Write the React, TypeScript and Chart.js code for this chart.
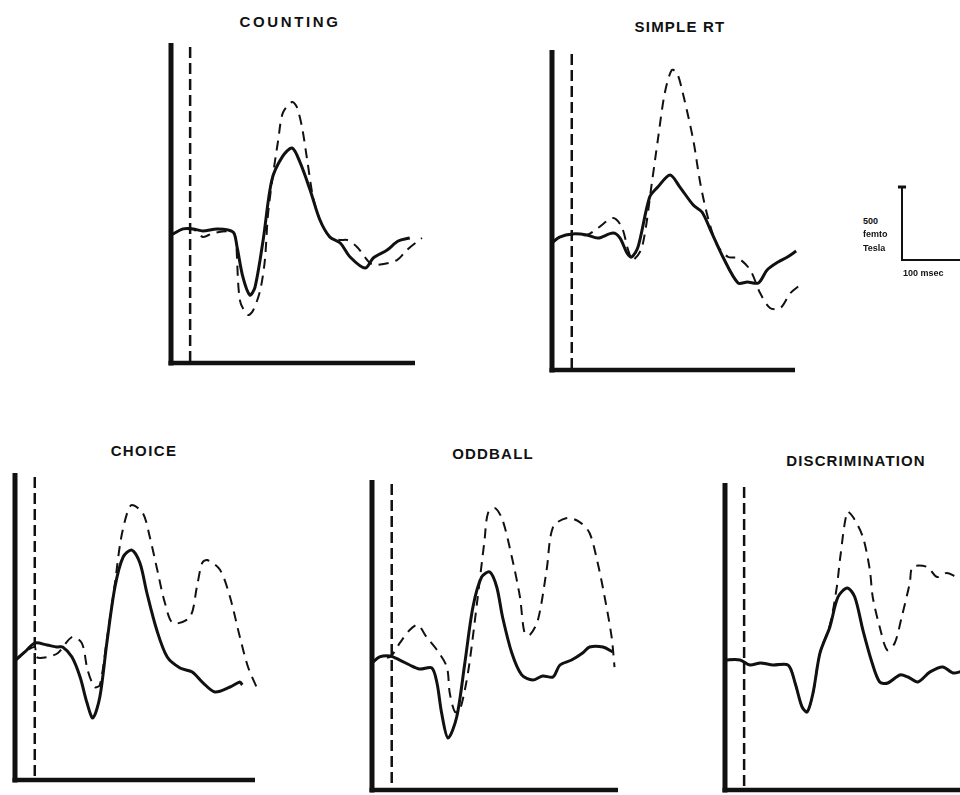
import React, { useEffect, useRef } from "react";
import { Chart, registerables } from "chart.js";
Chart.register(...registerables);

// ---- Data (time in ms relative to stimulus onset, field in femtoTesla relative to baseline) ----
const countingSolidT = [-33, -12, 5, 22, 47, 74, 81, 91, 103, 112, 126, 141, 159, 176, 190, 207, 224, 241, 259, 276, 302, 316, 340, 359, 379];
const countingSolidV = [-21, 21, 21, 7, 21, 0, -103, -308, -432, -377, -55, 356, 514, 575, 473, 288, 82, -34, -75, -171, -247, -178, -123, -62, -41];
const countingDashT = [-33, -12, 5, 22, 40, 74, 79, 86, 100, 109, 121, 129, 134, 141, 152, 160, 176, 184, 193, 202, 212, 224, 241, 259, 271, 288, 310, 322, 357, 374, 400];
const countingDashV = [-21, 21, 21, -34, -7, 0, -60, -470, -568, -534, -397, -192, 103, 336, 630, 815, 890, 856, 719, 493, 240, 82, -34, -55, -55, -103, -212, -226, -192, -123, -41];

const simpleSolidT = [-34, -21, 2, 26, 45, 71, 83, 95, 103, 114, 134, 148, 169, 186, 209, 224, 241, 260, 286, 302, 321, 336, 355, 371, 386];
const simpleSolidV = [-41, 0, 21, 14, -7, 27, -7, -110, -137, -68, 274, 342, 425, 342, 219, 171, 27, -137, -315, -308, -315, -226, -171, -137, -96];
const simpleDashT = [-34, -21, 2, 26, 45, 71, 86, 97, 105, 121, 138, 148, 160, 172, 181, 191, 209, 221, 234, 250, 269, 286, 307, 324, 341, 359, 376, 393];
const simpleDashV = [-41, 0, 21, 14, 62, 130, 68, -89, -158, -68, 377, 664, 986, 1144, 1123, 986, 664, 370, 137, -55, -137, -144, -226, -384, -486, -486, -384, -329];

const choiceSolidT = [-33, -17, 0, 21, 38, 48, 64, 78, 90, 100, 112, 124, 138, 152, 167, 181, 193, 210, 228, 250, 271, 290, 310, 336, 353, 357];
const choiceSolidV = [-82, -27, 34, 21, 7, 7, -62, -199, -377, -479, -336, 34, 418, 623, 671, 582, 377, 123, -62, -137, -164, -240, -301, -267, -233, -253];
const choiceDashT = [-33, -17, 0, 3, 21, 40, 64, 81, 91, 103, 112, 124, 138, 148, 159, 167, 186, 198, 212, 224, 238, 267, 279, 288, 297, 319, 336, 353, 367, 384];
const choiceDashV = [-82, -27, 7, -62, -62, -34, 75, 34, -151, -267, -253, 55, 445, 740, 925, 979, 925, 760, 514, 308, 171, 212, 418, 582, 603, 534, 349, 75, -130, -288];

const oddballSolidT = [-34, -21, -3, 14, 31, 48, 69, 78, 86, 97, 112, 126, 140, 155, 169, 181, 191, 207, 224, 243, 260, 278, 290, 310, 329, 341, 364, 381];
const oddballSolidV = [-34, 7, 14, -14, -48, -75, -68, -171, -377, -548, -404, -34, 349, 555, 589, 486, 281, 34, -116, -151, -123, -130, -48, -14, 34, 75, 75, 41];
const oddballDashT = [-34, -21, -3, 14, 31, 45, 60, 78, 95, 100, 109, 117, 126, 134, 147, 160, 166, 178, 191, 207, 221, 229, 238, 252, 267, 278, 302, 324, 341, 355, 367, 379, 384];
const oddballDashV = [-34, 7, 7, 103, 192, 226, 144, 55, -62, -240, -370, -356, -219, -34, 377, 808, 993, 1027, 945, 692, 418, 171, 158, 260, 603, 897, 959, 931, 856, 651, 418, 144, -62];

const discSolidT = [-33, -7, 10, 28, 50, 76, 88, 100, 109, 119, 131, 148, 162, 178, 191, 205, 221, 234, 248, 269, 283, 300, 321, 343, 360, 372, 390];
const discSolidV = [14, 14, -21, -7, -21, -21, -144, -308, -342, -212, 62, 240, 445, 507, 445, 219, -7, -137, -144, -89, -103, -137, -68, -34, -75, -68, -41];
const discDashT = [-33, -7, 10, 28, 50, 76, 88, 100, 109, 119, 131, 148, 160, 166, 178, 188, 205, 217, 222, 234, 247, 260, 272, 286, 291, 316, 333, 350, 367, 390];
const discDashV = [14, 14, -21, -7, -21, -21, -144, -308, -342, -212, 62, 253, 514, 719, 1027, 993, 856, 630, 445, 240, 82, 130, 308, 541, 651, 651, 582, 610, 582, 562];

const scaleBarT = [0, 0, 100];
const scaleBarV = [500, 0, 0];
const scaleCapT = [-7, 7];
const scaleCapV = [500, 500];

const PAD = 8;
const INK = "#111";

type Panel = {
  title: string;
  sT: number[]; sV: number[]; dT: number[]; dV: number[];
  xr: [number, number]; yr: [number, number];
  box: { l: number; t: number; r: number; b: number };
  tx: number; ty: number; ls: number;
};

const panels: Panel[] = [
  { title: "COUNTING", sT: countingSolidT, sV: countingSolidV, dT: countingDashT, dV: countingDashV,
    xr: [-33, 388], yr: [-897, 1294], box: { l: 171, t: 43, r: 415, b: 363 }, tx: 290, ty: 21, ls: 2.6 },
  { title: "SIMPLE RT", sT: simpleSolidT, sV: simpleSolidV, dT: simpleDashT, dV: simpleDashV,
    xr: [-34, 384], yr: [-911, 1281], box: { l: 552, t: 50, r: 795, b: 370 }, tx: 680, ty: 26, ls: 1.2 },
  { title: "CHOICE", sT: choiceSolidT, sV: choiceSolidV, dT: choiceDashT, dV: choiceDashV,
    xr: [-34, 379], yr: [-904, 1199], box: { l: 15, t: 473, r: 255, b: 780 }, tx: 144, ty: 450, ls: 1.4 },
  { title: "ODDBALL", sT: oddballSolidT, sV: oddballSolidV, dT: oddballDashT, dV: oddballDashV,
    xr: [-34, 390], yr: [-904, 1219], box: { l: 372, t: 480, r: 618, b: 790 }, tx: 493, ty: 453, ls: 1.2 },
  { title: "DISCRIMINATION", sT: discSolidT, sV: discSolidV, dT: discDashT, dV: discDashV,
    xr: [-33, 383], yr: [-877, 1226], box: { l: 725, t: 483, r: 966, b: 790 }, tx: 856, ty: 460, ls: 1.1 },
];

const pts = (t: number[], v: number[]) => t.map((x, i) => ({ x, y: v[i] }));

const framePlugin = {
  id: "frame",
  beforeDatasetsDraw(chart: any) {
    const { ctx, chartArea } = chart;
    const { left, top, right, bottom } = chartArea;
    const x0 = chart.scales.x.getPixelForValue(0);
    ctx.save();
    ctx.strokeStyle = INK;
    ctx.lineCap = "butt";
    ctx.lineWidth = 2.5;
    ctx.setLineDash([11, 5]);
    ctx.beginPath();
    ctx.moveTo(x0, top + 4);
    ctx.lineTo(x0, bottom);
    ctx.stroke();
    ctx.setLineDash([]);
    ctx.lineWidth = 5;
    ctx.beginPath();
    ctx.moveTo(left, top);
    ctx.lineTo(left, bottom + 2.5);
    ctx.stroke();
    ctx.lineWidth = 4.5;
    ctx.beginPath();
    ctx.moveTo(left - 2.5, bottom);
    ctx.lineTo(right, bottom);
    ctx.stroke();
    ctx.restore();
  },
};

function baseOptions(xr: [number, number], yr: [number, number]): any {
  return {
    responsive: false,
    maintainAspectRatio: false,
    animation: false,
    devicePixelRatio: 1,
    layout: { padding: PAD },
    plugins: { legend: { display: false }, tooltip: { enabled: false }, title: { display: false } },
    scales: {
      x: { type: "linear", display: false, min: xr[0], max: xr[1] },
      y: { type: "linear", display: false, min: yr[0], max: yr[1] },
    },
    elements: { point: { radius: 0 } },
  };
}

function PanelChart({ p }: { p: Panel }) {
  const ref = useRef<HTMLCanvasElement>(null);
  const w = p.box.r - p.box.l + 2 * PAD;
  const h = p.box.b - p.box.t + 2 * PAD;
  useEffect(() => {
    const chart = new Chart(ref.current as HTMLCanvasElement, {
      type: "line",
      data: {
        datasets: [
          { data: pts(p.sT, p.sV), borderColor: INK, borderWidth: 3, tension: 0.3, fill: false, pointRadius: 0, clip: false } as any,
          { data: pts(p.dT, p.dV), borderColor: INK, borderWidth: 2, borderDash: [10, 7], tension: 0.3, fill: false, pointRadius: 0, clip: false } as any,
        ],
      },
      options: baseOptions(p.xr, p.yr),
      plugins: [framePlugin],
    });
    return () => chart.destroy();
  }, []);
  return (
    <>
      <canvas
        ref={ref}
        width={w}
        height={h}
        style={{ position: "absolute", left: p.box.l - PAD, top: p.box.t - PAD, width: w, height: h }}
      />
      <div
        style={{
          position: "absolute", left: p.tx, top: p.ty, transform: "translate(-50%, -50%)",
          fontSize: 15, fontWeight: 700, letterSpacing: p.ls, whiteSpace: "nowrap", color: INK,
        }}
      >
        {p.title}
      </div>
    </>
  );
}

function ScaleBar() {
  const ref = useRef<HTMLCanvasElement>(null);
  const box = { l: 902, t: 187, r: 960, b: 260 };
  const w = box.r - box.l + 2 * PAD;
  const h = box.b - box.t + 2 * PAD;
  useEffect(() => {
    const chart = new Chart(ref.current as HTMLCanvasElement, {
      type: "line",
      data: {
        datasets: [
          { data: pts(scaleBarT, scaleBarV), borderColor: INK, borderWidth: 2, tension: 0, pointRadius: 0, clip: false } as any,
          { data: pts(scaleCapT, scaleCapV), borderColor: INK, borderWidth: 3, tension: 0, pointRadius: 0, clip: false } as any,
        ],
      },
      options: baseOptions([0, 100], [0, 500]),
    });
    return () => chart.destroy();
  }, []);
  const txt: React.CSSProperties = { position: "absolute", fontSize: 9, fontWeight: 700, color: INK, whiteSpace: "nowrap", lineHeight: "9px" };
  return (
    <>
      <canvas ref={ref} width={w} height={h} style={{ position: "absolute", left: box.l - PAD, top: box.t - PAD, width: w, height: h }} />
      <div style={{ ...txt, left: 863, top: 217 }}>500</div>
      <div style={{ ...txt, left: 863, top: 230 }}>femto</div>
      <div style={{ ...txt, left: 863, top: 244 }}>Tesla</div>
      <div style={{ ...txt, left: 903, top: 269 }}>100 msec</div>
    </>
  );
}

export default function App() {
  return (
    <div
      style={{
        position: "fixed", left: 0, top: 0, width: 960, height: 795, overflow: "hidden",
        background: "#fff", fontFamily: "'Liberation Sans', Arial, Helvetica, sans-serif",
      }}
    >
      {panels.map((p) => (
        <PanelChart key={p.title} p={p} />
      ))}
      <ScaleBar />
    </div>
  );
}
